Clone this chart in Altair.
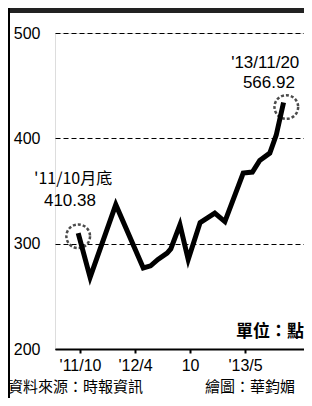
import altair as alt
import pandas as pd

# months since Oct 2011 (position on the drawn axis) and index level (points)
months = [-0.2, 1.1, 3.9, 6.9, 7.7, 8.5, 9.5, 9.9, 10.9, 11.8, 13.1, 14.7, 15.8, 17.8, 18.8, 19.6, 20.7, 21.4, 22.2]
values = [310, 268, 337, 277, 279, 285, 291, 295, 318, 285, 320, 329, 321, 367, 368, 379, 386, 403, 434]

tick_pos = [0, 6, 12, 18]
tick_labels = ["'11/10", "'12/4", "10", "'13/5"]
y_ticks = [200, 300, 400, 500]

XDOM = [-2.73, 24.43]
YDOM = [200, 500]

line_df = pd.DataFrame({"m": months, "v": values})

LATIN = "Liberation Sans"
CJK = "Noto Sans CJK TC"

label_expr = " : ".join(
    f"datum.value == {p} ? \"{l}\"" for p, l in zip(tick_pos, tick_labels)
) + " : ''"

x_enc = alt.X(
    "m:Q",
    scale=alt.Scale(domain=XDOM, nice=False, zero=False),
    axis=alt.Axis(
        values=tick_pos, labelExpr=label_expr, title=None, grid=False,
        domainColor="black", domainWidth=2, tickColor="black", tickWidth=2,
        tickSize=4, labelFont=LATIN, labelFontSize=16, labelColor="black",
        labelPadding=4, labelFlush=False,
    ),
)
y_enc = alt.Y(
    "v:Q",
    scale=alt.Scale(domain=YDOM, nice=False, zero=False),
    axis=alt.Axis(
        values=y_ticks, title=None, domain=False, ticks=False, grid=True,
        gridColor="black", gridDash=[5, 3], gridWidth=1.2, gridOpacity=1,
        labelFont=LATIN, labelFontSize=16, labelColor="black", labelPadding=15,
    ),
)

line = alt.Chart(line_df).mark_line(color="black", strokeWidth=5, strokeJoin="miter").encode(
    x=x_enc, y=y_enc
)

circ_df = pd.DataFrame({"m": [-0.2, 22.5], "v": [307, 429.7]})
circles = alt.Chart(circ_df).mark_point(
    shape="circle", size=560, filled=False, color="black", strokeWidth=2.5, strokeDash=[3, 2]
).encode(x="m:Q", y="v:Q")

# numeric annotations (Latin font)
num_text = ["'13/11/20", "566.92", "410.38"]
num_m = [20.2, 20.6, -1.1]
num_v = [471.4, 452.4, 340.5]
num_df = pd.DataFrame({"t": num_text, "m": num_m, "v": num_v})
num_ann = alt.Chart(num_df).mark_text(
    font=LATIN, fontSize=17, color="black", baseline="middle", align="center"
).encode(x="m:Q", y="v:Q", text="t:N")

cjk_df = pd.DataFrame({"t": ["'11/10月底"], "m": [-0.76], "v": [361.3]})
cjk_ann = alt.Chart(cjk_df).mark_text(
    font=CJK, fontSize=16, color="black", baseline="middle", align="center"
).encode(x="m:Q", y="v:Q", text="t:N")

unit_df = pd.DataFrame({"t": ["單位：點"], "m": [XDOM[1]], "v": [216]})
unit = alt.Chart(unit_df).mark_text(
    font=CJK, fontSize=17, color="black", baseline="middle", align="right", fontWeight="bold"
).encode(x="m:Q", y="v:Q", text="t:N")

footer_df = pd.DataFrame({"t": ["資料來源：時報資訊", "繪圖：華鈞媚"], "px": [-47, 150]})
footer = alt.Chart(footer_df).mark_text(
    font=CJK, fontSize=15, color="black", baseline="middle", align="left"
).encode(x=alt.X("px:Q", scale=None), y=alt.value(354), text="t:N")

band = alt.Chart(pd.DataFrame({"a": [0]})).mark_rect(color="#222").encode(
    x=alt.value(-47), x2=alt.value(249), y=alt.value(-25), y2=alt.value(-20)
)
band2 = alt.Chart(pd.DataFrame({"a": [0]})).mark_rule(color="black", strokeWidth=2).encode(
    x=alt.value(-46), y=alt.value(-25), y2=alt.value(365)
)

chart = alt.layer(line, circles, num_ann, cjk_ann, unit, footer, band, band2).properties(
    width=249, height=316,
    autosize=alt.AutoSizeParams(type="none"),
    padding={"left": 47, "top": 25, "right": 0, "bottom": 49},
).configure_view(stroke=None).configure(background="white")

chart.save("out.html", embed_options={"renderer": "svg", "actions": False})
